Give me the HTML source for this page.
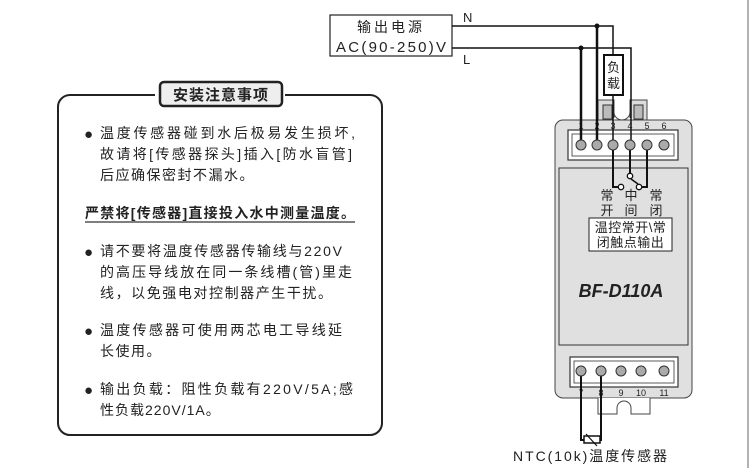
<!DOCTYPE html>
<html><head><meta charset="utf-8"><style>
html,body{margin:0;padding:0;background:#fff;}
svg{display:block;}
text{font-family:"Liberation Sans","Noto Sans CJK SC",sans-serif;fill:#222;}
.t{font-size:14px;}
.b{font-size:15px;}
</style></head><body>
<svg width="750" height="468" viewBox="0 0 750 468" xmlns="http://www.w3.org/2000/svg">
<line x1="748" y1="0" x2="748" y2="468" stroke="#999" stroke-width="1.5"/>
<!-- left panel -->
<rect x="58" y="95" width="324" height="340" rx="12" fill="#fff" stroke="#222" stroke-width="2"/>
<rect x="155" y="82" width="130" height="26" fill="#fff" stroke="none"/>
<rect x="160" y="82" width="122" height="24" rx="4" fill="#eee" stroke="#222" stroke-width="2.5"/>
<text x="221" y="100" text-anchor="middle" style="font-size:15px;font-weight:bold;letter-spacing:1px">安装注意事项</text>
<g class="b">
<text x="84" y="139">●</text><text x="84" y="257">●</text><text x="84" y="336">●</text><text x="84" y="395">●</text>
</g>
<g class="t">
<text x="100" y="138" textLength="255" lengthAdjust="spacing">温度传感器碰到水后极易发生损坏,</text>
<text x="100" y="159" textLength="252" lengthAdjust="spacing">故请将[传感器探头]插入[防水盲管]</text>
<text x="100" y="180" style="letter-spacing:1.5px">后应确保密封不漏水。</text>
<text x="85" y="218" textLength="270" lengthAdjust="spacing" style="font-weight:bold">严禁将[传感器]直接投入水中测量温度。</text>
<text x="100" y="256" textLength="242" lengthAdjust="spacing">请不要将温度传感器传输线与220V</text>
<text x="100" y="277" textLength="252" lengthAdjust="spacing">的高压导线放在同一条线槽(管)里走</text>
<text x="100" y="298" textLength="232" lengthAdjust="spacing">线，以免强电对控制器产生干扰。</text>
<text x="100" y="335" textLength="242" lengthAdjust="spacing">温度传感器可使用两芯电工导线延</text>
<text x="100" y="356" style="letter-spacing:1.5px">长使用。</text>
<text x="100" y="394" textLength="253" lengthAdjust="spacing">输出负载：阻性负载有220V/5A;感</text>
<text x="100" y="415" style="letter-spacing:1px">性负载220V/1A。</text>
</g>
<line x1="85" y1="222" x2="355" y2="222" stroke="#333" stroke-width="1.2"/>
<!-- power box -->
<rect x="330" y="15" width="122" height="41" fill="#fff" stroke="#222" stroke-width="1.2"/>
<text x="391" y="32" text-anchor="middle" style="font-size:14px;letter-spacing:3px">输出电源</text>
<text x="336" y="52" textLength="110" lengthAdjust="spacing" style="font-size:15px">AC(90-250)V</text>
<text x="463" y="22" style="font-size:13px">N</text>
<text x="463" y="64" style="font-size:13px">L</text>
<!-- device body -->
<path d="M598 120 V100 H614 V118 M630 118 V100 H647 V120" fill="#ddd" stroke="#444" stroke-width="1"/>
<path d="M614 100 V112 a8 8 0 0 0 16 0 V100" fill="#fff" stroke="#444" stroke-width="1"/>
<rect x="603" y="105" width="9" height="14" fill="#bbb" stroke="#333" stroke-width="1"/>
<rect x="634" y="105" width="9" height="14" fill="#bbb" stroke="#333" stroke-width="1"/>
<path d="M563 120 H684 a8 8 0 0 1 8 8 V390 a8 8 0 0 1 -8 8 H563 a8 8 0 0 1 -8 -8 V128 a8 8 0 0 1 8 -8Z" fill="#e0e0e0" stroke="#444" stroke-width="1"/>
<path d="M598 398 V414 H617 V408 a7 7 0 0 1 14 0 V414 H650 V398" fill="#fff" stroke="#444" stroke-width="1"/>
<rect x="568" y="130" width="110" height="30" fill="#fff" stroke="#333" stroke-width="1.2"/>
<rect x="572" y="134" width="102" height="22" fill="#fff" stroke="#333" stroke-width="0.8"/>
<rect x="559" y="168" width="129" height="177" fill="#e0e0e0" stroke="#333" stroke-width="1"/>
<rect x="570" y="357" width="108" height="30" fill="#fff" stroke="#333" stroke-width="1.2"/>
<rect x="574" y="361" width="100" height="22" fill="#fff" stroke="#333" stroke-width="0.8"/>
<g style="font-size:9px" text-anchor="middle">
<text x="581" y="129">1</text><text x="597" y="129">2</text><text x="613" y="129">3</text><text x="630" y="129">4</text><text x="647" y="129">5</text><text x="664" y="129">6</text>
<text x="581" y="396">7</text><text x="601" y="396">8</text><text x="621" y="396">9</text><text x="641" y="396">10</text><text x="664" y="396">11</text>
</g>
<!-- wires -->
<g stroke="#111" fill="none">
<path d="M452 26 H613 V55" stroke-width="1.5"/>
<path d="M452 48 H631 V145" stroke-width="1.5"/>
<path d="M597 26 V145" stroke-width="2.5"/>
<path d="M581 48 V145" stroke-width="2.5"/>
<path d="M613 95 V145" stroke-width="1.5"/>
<path d="M613 145 V187 H618" stroke-width="2"/>
<path d="M647 145 V187 H642" stroke-width="2"/>
<path d="M630 145 V173" stroke-width="2"/>
<path d="M631 179 L638 184" stroke-width="1.5"/>
<path d="M581 371 V440 H584 M601 371 V440 H600" stroke-width="2"/>
</g>
<circle cx="597" cy="26" r="2.5" fill="#111"/>
<circle cx="581" cy="48" r="2.5" fill="#111"/>
<g fill="#aaa" stroke="#333" stroke-width="1">
<circle cx="581" cy="145" r="5"/><circle cx="597" cy="145" r="5"/><circle cx="613" cy="145" r="5"/><circle cx="630" cy="145" r="5"/><circle cx="647" cy="145" r="5"/><circle cx="664" cy="145" r="5"/>
<circle cx="581" cy="371" r="5"/><circle cx="601" cy="371" r="5"/><circle cx="621" cy="371" r="5"/><circle cx="641" cy="371" r="5"/><circle cx="664" cy="371" r="5"/>
</g>
<g fill="#fff" stroke="#111" stroke-width="1.3">
<circle cx="630" cy="176" r="2.7"/><circle cx="621" cy="187" r="2.7"/><circle cx="639" cy="187" r="2.7"/>
</g>
<!-- load -->
<rect x="604" y="55" width="19" height="40" fill="#fff" stroke="#111" stroke-width="2"/>
<text x="613.5" y="72" text-anchor="middle" style="font-size:13px">负</text>
<text x="613.5" y="88" text-anchor="middle" style="font-size:13px">载</text>
<!-- labels -->
<g style="font-size:13px" text-anchor="middle">
<text x="607" y="200">常</text><text x="631" y="200">中</text><text x="656" y="200">常</text>
<text x="607" y="215">开</text><text x="631" y="215">间</text><text x="656" y="215">闭</text>
</g>
<rect x="589" y="218" width="83" height="33" fill="#fff" stroke="#222" stroke-width="1"/>
<text x="630.5" y="232" text-anchor="middle" style="font-size:13px;letter-spacing:0.5px">温控常开\常</text>
<text x="630.5" y="247" text-anchor="middle" style="font-size:13px;letter-spacing:0.5px">闭触点输出</text>
<text x="621" y="297" text-anchor="middle" style="font-size:18px;font-weight:bold;font-style:italic">BF-D110A</text>
<!-- sensor -->
<rect x="584" y="436" width="16" height="7" fill="#fff" stroke="#111" stroke-width="1.5"/>
<line x1="586" y1="434" x2="597" y2="446" stroke="#111" stroke-width="1.2"/>
<text x="513" y="461" textLength="154" lengthAdjust="spacing" style="font-size:14px">NTC(10k)温度传感器</text>
</svg>
</body></html>
